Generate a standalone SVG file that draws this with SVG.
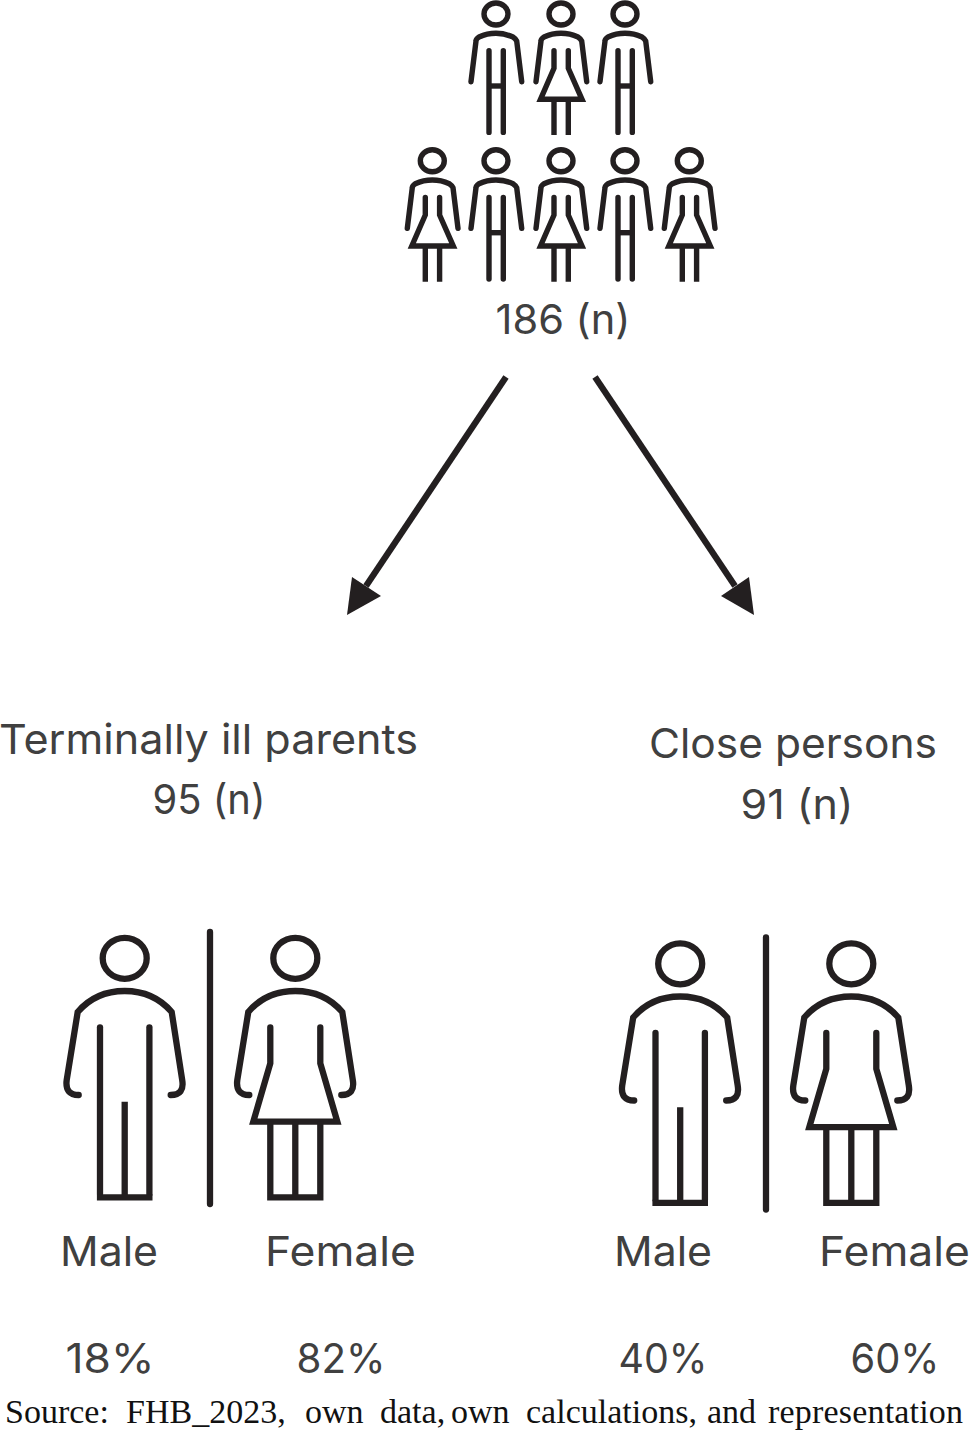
<svg xmlns="http://www.w3.org/2000/svg" width="969" height="1431" viewBox="0 0 969 1431">
<style>
.s{fill:none;stroke:#231f20;stroke-linejoin:miter}
.sm{stroke-width:5.400}
.lg{stroke-width:6.300}
.rc{stroke-linecap:round}
.t{font-family:"Inter","Liberation Sans",sans-serif;font-size:41px;fill:#404040;text-anchor:middle}
.c{font-family:"Liberation Serif",serif;font-size:34px;fill:#111}
.ar{fill:none;stroke:#231f20;stroke-width:6.300}
.ah{fill:#231f20}
</style>
<defs>
<g id="sm-male" class="s sm">
<ellipse cx="0" cy="14" rx="12" ry="11"/>
<path class="rc" d="M-25 81.700L-20 41Q-20 39-17 37Q-9 33.300 0 33.300Q9 33.300 17 37Q20 39 20.700 41L25.700 81.700"/>
<path class="rc" d="M-7 50.700V132.400M7.300 50.700V132.400"/>
<path d="M-7 86H7.300"/>
</g>
<g id="sm-female" class="s sm">
<ellipse cx="0" cy="14" rx="12" ry="11"/>
<path class="rc" d="M-25 81.700L-20 41Q-20 39-17 37Q-9 33.300 0 33.300Q9 33.300 17 37Q20 39 20.700 41L25.700 81.700"/>
<path stroke-linecap="round" d="M-7 50.700V68.300L-20.500 99.300H21L7.300 68.300V50.700"/>
<path d="M-7 99.300V135M7.300 99.300V135"/>
</g>
<g id="lg-male" class="s lg">
<ellipse cx="0" cy="38.300" rx="22" ry="20.500"/>
<path class="rc" d="M-46 175Q-60 175-58 160L-47 92C-35 78-18 71 0 71C18 71 35 78 47 92L57.500 160Q60 175 46 175"/>
<path class="rc" d="M-24.700 107.300V274"/>
<path class="rc" d="M24.700 107.300V274"/>
<path d="M-27.800 277.300H27.800M0 181.700V277.300"/>
</g>
<g id="lg-female" class="s lg">
<ellipse cx="0" cy="38.300" rx="22" ry="20.500"/>
<path class="rc" d="M-46 175Q-60 175-58 160L-47 92C-35 78-18 71 0 71C18 71 35 78 47 92L57.500 160Q60 175 46 175"/>
<path stroke-linecap="round" d="M-25 107.300V143.300L-42 201.700H42L25 143.300V107.300"/>
<path d="M-25 201.700V277.300H25V201.700M0 201.700V277.300"/>
</g>
</defs>
<g id="crowd">
<use href="#sm-male" x="496" y="0"/>
<use href="#sm-female" x="561" y="0"/>
<use href="#sm-male" x="625" y="0"/>
<use href="#sm-female" x="432.300" y="146.700"/>
<use href="#sm-male" x="496" y="146.700"/>
<use href="#sm-female" x="561" y="146.700"/>
<use href="#sm-male" x="625" y="146.700"/>
<use href="#sm-female" x="689.300" y="146.700"/>
<text class="t" x="563" y="334" textLength="135" lengthAdjust="spacingAndGlyphs">186 (n)</text>
</g>
<g id="connectors">
<path class="ar" d="M506 377L366 586"/>
<polygon class="ah" points="347,615 352,577 381,596"/>
<path class="ar" d="M595 377L735 586"/>
<polygon class="ah" points="754,615 721,596 749,577"/>
</g>
<g id="parents">
<text class="t" x="208.500" y="754" textLength="419" lengthAdjust="spacingAndGlyphs">Terminally ill parents</text>
<text class="t" x="209" y="814" textLength="113" lengthAdjust="spacingAndGlyphs">95 (n)</text>
<use href="#lg-male" x="124.700" y="920"/>
<use href="#lg-female" x="295.300" y="920"/>
<path class="s lg rc" d="M210 932V1204"/>
<text class="t" x="109" y="1266" textLength="98" lengthAdjust="spacingAndGlyphs">Male</text>
<text class="t" x="340.500" y="1266" textLength="151" lengthAdjust="spacingAndGlyphs">Female</text>
<text class="t" x="110" y="1373" textLength="89" lengthAdjust="spacingAndGlyphs">18%</text>
<text class="t" x="341" y="1373" textLength="89" lengthAdjust="spacingAndGlyphs">82%</text>
</g>
<g id="close">
<text class="t" x="793" y="758" textLength="288" lengthAdjust="spacingAndGlyphs">Close persons</text>
<text class="t" x="797" y="819" textLength="113" lengthAdjust="spacingAndGlyphs">91 (n)</text>
<use href="#lg-male" x="680.200" y="925.500"/>
<use href="#lg-female" x="851.300" y="925.500"/>
<path class="s lg rc" d="M766 937.500V1209.500"/>
<text class="t" x="663" y="1266" textLength="98" lengthAdjust="spacingAndGlyphs">Male</text>
<text class="t" x="894.500" y="1266" textLength="151" lengthAdjust="spacingAndGlyphs">Female</text>
<text class="t" x="663" y="1373" textLength="89" lengthAdjust="spacingAndGlyphs">40%</text>
<text class="t" x="895" y="1373" textLength="89" lengthAdjust="spacingAndGlyphs">60%</text>
</g>
<text class="c" y="1423"><tspan x="5">Source:</tspan> <tspan x="126">FHB_2023,</tspan> <tspan x="305">own</tspan> <tspan x="380">data,</tspan> <tspan x="451">own</tspan> <tspan x="526">calculations,</tspan> <tspan x="707">and</tspan> <tspan x="768" textLength="195">representation</tspan></text>
</svg>
